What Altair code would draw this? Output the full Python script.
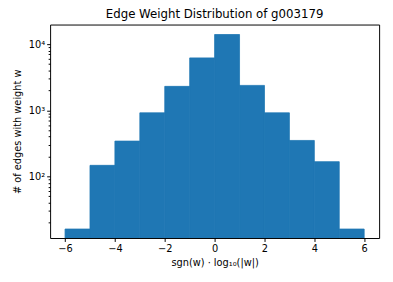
import altair as alt
import pandas as pd

bin_start = [-6, -5, -4, -3, -2, -1, 0, 1, 2, 3, 4, 5]
bin_end = [-5, -4, -3, -2, -1, 0, 1, 2, 3, 4, 5, 6]
counts = [16, 147, 342, 915, 2300, 6200, 14000, 2380, 915, 350, 167, 16]

x_ticks = [-6, -4, -2, 0, 2, 4, 6]
y_major = [100, 1000, 10000]
y_minor = [20, 30, 40, 50, 60, 70, 80, 90,
           200, 300, 400, 500, 600, 700, 800, 900,
           2000, 3000, 4000, 5000, 6000, 7000, 8000, 9000]

df = pd.DataFrame({"x0": bin_start, "x1": bin_end, "count": counts, "base": [1] * len(counts)})

FONT = "DejaVu Sans"
major_test = "indexof([100, 1000, 10000], datum.value) >= 0"

chart = alt.Chart(df).mark_bar(color="#1f77b4", clip=True, stroke="#1f77b4", strokeWidth=0.8).encode(
    x=alt.X("x0:Q",
            scale=alt.Scale(domain=[-6.6, 6.6], nice=False, zero=False),
            axis=alt.Axis(values=x_ticks, grid=False, title="sgn(w) · log₁₀(|w|)",
                          labelExpr="replace(datum.label, '-', '−')",
                          tickSize=3.5, labelPadding=2, titlePadding=5,
                          domain=False, tickColor="black", labelColor="black",
                          labelFont=FONT, labelFontSize=10, titleFont=FONT,
                          titleFontSize=10, titleFontWeight="normal", titleColor="black")),
    x2="x1:Q",
    y=alt.Y("count:Q",
            scale=alt.Scale(type="log", domain=[11.7, 19800], nice=False, zero=False),
            axis=alt.Axis(values=y_major + y_minor, grid=False,
                          title="# of edges with weight w",
                          labelExpr="datum.value == 100 ? '10²' : datum.value == 1000 ? '10³' : datum.value == 10000 ? '10⁴' : ''",
                          tickSize={"condition": {"test": major_test, "value": 3.5}, "value": 2},
                          labelPadding=2, titlePadding=6, labelOverlap=False,
                          domain=False, tickColor="black", labelColor="black",
                          labelFont=FONT, labelFontSize=10, titleFont=FONT,
                          titleFontSize=10, titleFontWeight="normal", titleColor="black")),
    y2="base:Q",
).properties(
    width=336,
    height=218,
    title=alt.TitleParams("Edge Weight Distribution of g003179", font=FONT, fontSize=12,
                          fontWeight="normal", color="black", offset=4),
    autosize=alt.AutoSizeParams(type="none"),
    padding={"left": 43, "top": 14, "right": 6, "bottom": 42},
).configure_view(stroke="black", strokeWidth=1)

chart.save("out.html", embed_options={"renderer": "svg", "actions": False})
